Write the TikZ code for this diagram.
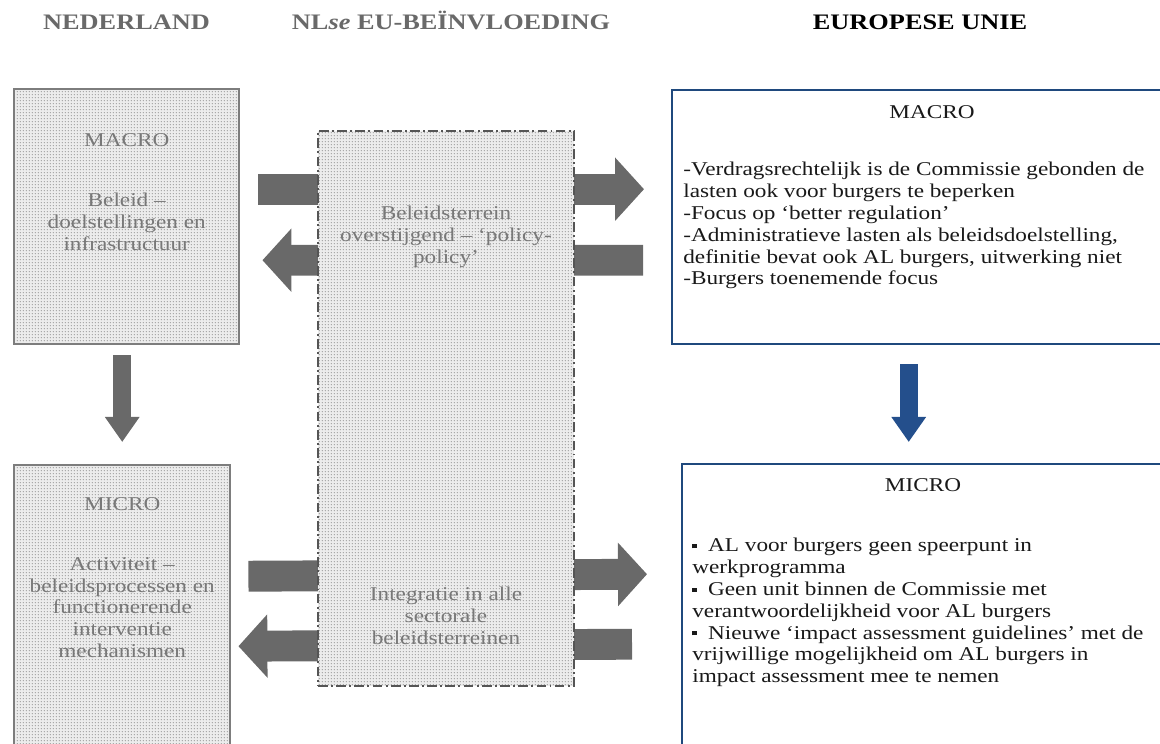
\documentclass[tikz,border=0pt]{standalone}
\usepackage{xcolor}
\usepackage{fontspec}
\setmainfont{Liberation Serif}[FakeStretch=1.19]
\usepackage{tikz}
\usetikzlibrary{arrows.meta,calc,patterns}
\definecolor{eublue}{RGB}{31, 73, 125}
\definecolor{arrowblue}{RGB}{36, 79, 140}
\definecolor{arrowgray}{RGB}{105, 105, 105}
\definecolor{nlgray}{RGB}{120, 120, 120}
\definecolor{headgray}{RGB}{105, 105, 105}
\definecolor{framegray}{RGB}{125, 125, 125}
\definecolor{dashgray}{RGB}{85, 85, 85}
\definecolor{dotback}{RGB}{236, 236, 236}
\definecolor{dotfront}{RGB}{145, 145, 145}
\newcommand{\pxu}{0.615pt}
\newcommand{\blokje}{\raisebox{2.2pt}{\rule{2.6pt}{2.6pt}}}
\pgfdeclarepatternformonly{finedots}{\pgfpointorigin}{\pgfpoint{2pt}{2pt}}{\pgfpoint{2pt}{2pt}}{%
  \pgfpathcircle{\pgfpoint{1pt}{1pt}}{0.45pt}\pgfusepath{fill}}

\begin{document}
\begin{tikzpicture}[x=\pxu, y=-\pxu,
    every node/.style={font=\fontsize{12}{13.4}\selectfont, inner sep=0pt},
    nlbox/.style={draw=framegray, line width=1.5pt, preaction={fill=dotback},
      pattern=finedots, pattern color=dotfront, anchor=north west},
    midbox/.style={draw=dashgray, line width=1.2pt,
      dash pattern=on 6pt off 2pt on 1.2pt off 2pt, preaction={fill=dotback},
      pattern=finedots, pattern color=dotfront, anchor=north west},
    eubox/.style={draw=eublue, line width=1.5pt, fill=white, anchor=north west},
    kop/.style={font=\fontsize{13.6}{15}\selectfont\bfseries, anchor=base},
    graytext/.style={text=nlgray, align=center},
    blacktext/.style={text=black!90, align=left, anchor=north west},
    fatarrow/.style={draw=arrowgray, line width=19pt,
      -{Triangle[length=17.8pt, width=38pt]}},
    downarrow/.style={line width=11pt, -{Triangle[length=15.4pt, width=20.3pt]}}]
  \useasboundingbox (0,0) rectangle (1160,744);

  % koppen
  \node[kop, text=headgray] (hnl) at (126.5,30) {NEDERLAND};
  \node[kop, text=headgray] (hmid) at (451,30) {NL\textit{se} EU-BEÏNVLOEDING};
  \node[kop] (heu) at (920,30) {EUROPESE UNIE};

  % blokken
  \node[nlbox, minimum width=225*\pxu, minimum height=255*\pxu] (nlmacro) at (13,88) {};
  \node[nlbox, minimum width=216*\pxu, minimum height=300*\pxu] (nlmicro) at (13,464) {};
  \node[eubox, minimum width=495*\pxu, minimum height=254*\pxu] (eumacro) at (671,89) {};
  \node[eubox, minimum width=485*\pxu, minimum height=300*\pxu] (eumicro) at (681,463) {};

  % pijlen achter het middenblok
  \draw[fatarrow] ($(nlmacro.east)+(18,-27.5)$) -- ($(eumacro.west)+(-27,-28)$);
  \draw[fatarrow] ($(eumacro.west)+(-28,43)$) -- ($(nlmacro.east)+(22,43.5)$);
  \draw[fatarrow] ($(nlmicro.east)+(17,-39)$) -- ($(eumicro.west)+(-34,-40)$);
  \draw[fatarrow] ($(eumicro.west)+(-49,30)$) -- ($(nlmicro.east)+(7,31)$);
  \draw[downarrow, draw=arrowgray] ($(nlmacro.south)+(-4.5,10)$) -- ($(nlmicro.north)+(0,-22)$);
  \draw[downarrow, draw=arrowblue] ($(eumacro.south)+(-11,19)$) -- ($(eumicro.north)+(-16,-21)$);

  \node[midbox, minimum width=256*\pxu, minimum height=555*\pxu] (nleu) at (317,130) {};

  % teksten
  \node[graytext, anchor=base] (nlmacrot) at (nlmacro.north |- 0,146.5) {MACRO};
  \node[graytext, anchor=north] (nlmacrob) at (nlmacro.north |- 0,193)
    {Beleid –\\doelstellingen en\\infrastructuur};
  \node[graytext, anchor=base] (nlmicrot) at (nlmicro.north |- 0,510.5) {MICRO};
  \node[graytext, anchor=north] (nlmicrob) at (nlmicro.north |- 0,557)
    {Activiteit –\\beleidsprocessen en\\functionerende\\interventie\\mechanismen};
  \node[graytext, anchor=north] (nleut) at (nleu.north |- 0,206)
    {Beleidsterrein\\overstijgend – ‘policy-\\policy’};
  \node[graytext, anchor=north] (nleub) at (nleu.north |- 0,587)
    {Integratie in alle\\sectorale\\beleidsterreinen};

  \node[anchor=base, text=black!90] (eumacrot) at (932,118.5) {MACRO};
  \node[blacktext] (eumacrob) at (683,162)
    {-Verdragsrechtelijk is de Commissie gebonden de\\
     lasten ook voor burgers te beperken\\
     -Focus op ‘better regulation’\\
     -Administratieve lasten als beleidsdoelstelling,\\
     definitie bevat ook AL burgers, uitwerking niet\\
     -Burgers toenemende focus};
  \node[anchor=base, text=black!90] (eumicrot) at (923,491.5) {MICRO};
  \node[blacktext] (eumicrob) at (692,538)
    {\blokje\ \ AL voor burgers geen speerpunt in\\
     werkprogramma\\
     \blokje\ \ Geen unit binnen de Commissie met\\
     verantwoordelijkheid voor AL burgers\\
     \blokje\ \ Nieuwe ‘impact assessment guidelines’ met de\\
     vrijwillige mogelijkheid om AL burgers in\\
     impact assessment mee te nemen};
\end{tikzpicture}
\end{document}
